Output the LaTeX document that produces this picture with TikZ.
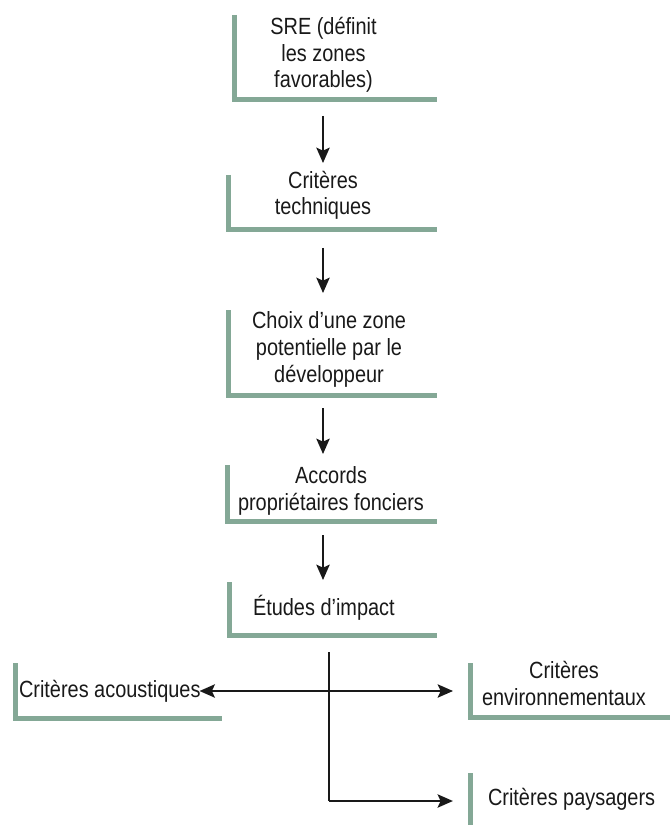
\documentclass[tikz,border=0pt]{standalone}
\usepackage{fontspec}
\setmainfont{Liberation Sans}[FakeStretch=0.85]
\usetikzlibrary{arrows.meta,fit}
\definecolor{barg}{RGB}{132,168,150}
\begin{document}
\begin{tikzpicture}[x=0.03cm,y=-0.03cm,
  bar/.style={draw=barg,line width=0.15cm,line join=miter},
  ln/.style={draw=black!90,line width=0.06cm},
  arr/.style={ln,-{Stealth[length=0.46cm,width=0.4cm,inset=0.09cm]}},
  txt/.style={inner sep=0pt,outer sep=0pt,align=center,font=\fontsize{20pt}{23pt}\selectfont,text=black!90},
  box/.style={inner sep=0pt,outer sep=0pt}]
\useasboundingbox (0,0) rectangle (669,825);
% coordinates of box corners
\coordinate (b1a) at (234.5,15);  \coordinate (b1b) at (437,99.5);
\coordinate (b2a) at (228.5,175); \coordinate (b2b) at (437,230);
\coordinate (b3a) at (228.5,310); \coordinate (b3b) at (437,395);
\coordinate (b4a) at (227.5,465); \coordinate (b4b) at (437,521.5);
\coordinate (b5a) at (229,582);   \coordinate (b5b) at (437,635);
\coordinate (b6a) at (15.5,663);  \coordinate (b6b) at (222,718);
\coordinate (b7a) at (470,663);   \coordinate (b7b) at (672,717.5);
\coordinate (b8a) at (471.5,773); \coordinate (b8b) at (471.5,828);
\foreach \i in {1,...,8} {\node[box,fit=(b\i a)(b\i b)] (b\i) {};}
\foreach \i in {1,...,7} {\draw[bar] (b\i.north west) |- (b\i.south east);}
\draw[bar] (b8.north west) -- (b8.south west);
% texts (base anchor of a multi-line node = baseline of its last line)
\node[txt,anchor=base] (t1) at (323.5,88) {SRE (définit\\les zones\\favorables)};
\node[txt,anchor=base] (t2) at (323,215) {Critères\\techniques};
\node[txt,anchor=base] (t3) at (329,382) {Choix d’une zone\\potentielle par le\\développeur};
\node[txt,anchor=base] (t4) at (331,510) {Accords\\propriétaires fonciers};
\node[txt,anchor=base west] (t5) at (253,615) {Études d’impact};
\node[txt,anchor=base west] (t6) at (19,697) {Critères acoustiques};
\node[txt,anchor=base] (t7) at (564,705) {Critères\\environnementaux};
\node[txt,anchor=base west] (t8) at (488,805) {Critères paysagers};
% connectors
\coordinate (ax) at (323,0);
\coordinate (j1) at (329,691);
\coordinate (j2) at (329,801);
\draw[arr,shorten <=0.495cm,shorten >=0.36cm] (b1.south -| ax) -- (b2.north -| ax);
\draw[arr,shorten <=0.54cm,shorten >=0.51cm] (b2.south -| ax) -- (b3.north -| ax);
\draw[arr,shorten <=0.39cm,shorten >=0.33cm] (b3.south -| ax) -- (b4.north -| ax);
\draw[arr,shorten <=0.405cm,shorten >=0.06cm] (b4.south -| ax) -- (b5.north -| ax);
\draw[ln,shorten <=0.51cm] (b5.south -| j1) -- (j2);
\draw[arr,shorten >=-0.03cm] (j1) -- (j1 -| t6.east);
\draw[arr,shorten >=0.51cm] (j1) -- (j1 -| b7.west);
\draw[arr,shorten >=0.54cm] (j2) -- (j2 -| b8.west);
\end{tikzpicture}
\end{document}
